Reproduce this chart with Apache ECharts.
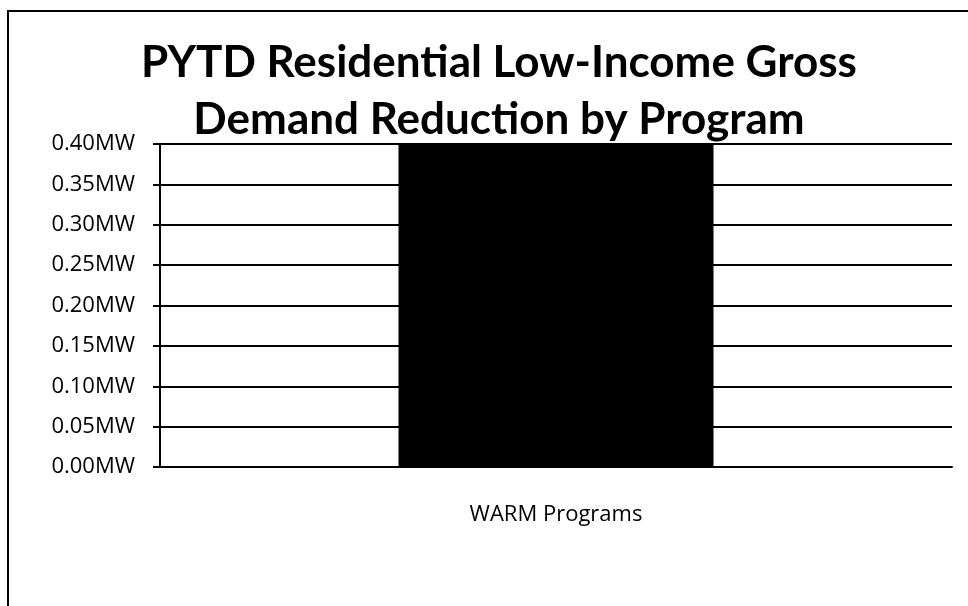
<!DOCTYPE html>
<html>
<head>
<meta charset="utf-8">
<script src="https://cdn.jsdelivr.net/npm/echarts@6/dist/echarts.min.js"></script>
<style>
html,body{margin:0;padding:0;background:#fff;}
#chart{width:968px;height:606px;}
</style>
</head>
<body>
<div id="chart"></div>
<script>
const titleText = 'PYTD Residential Low-Income Gross\nDemand Reduction by Program';
const categories = ['WARM Programs'];
const values = [0.40];
const yMin = 0, yMax = 0.40, yStep = 0.05;

const chart = echarts.init(document.getElementById('chart'), null, {renderer: 'canvas'});
chart.setOption({
  backgroundColor: '#fff',
  animation: false,
  title: {
    text: titleText,
    left: 494,
    top: 29,
    textAlign: 'center',
    textStyle: {
      fontFamily: 'Lato',
      fontWeight: 'bold',
      fontSize: 44,
      lineHeight: 57,
      color: '#000'
    }
  },
  graphic: [{
    type: 'polyline',
    shape: {points: [[8, 606], [8, 11], [968, 11]]},
    style: {stroke: '#000', lineWidth: 2, fill: null},
    silent: true
  }],
  grid: {left: 160, right: 16, top: 144, bottom: 139},
  xAxis: {
    type: 'category',
    data: categories,
    axisLine: {show: true, lineStyle: {color: '#000', width: 2}},
    axisTick: {show: false},
    axisLabel: {
      color: '#000',
      fontFamily: 'Open Sans',
      fontSize: 22,
      margin: 37
    }
  },
  yAxis: {
    type: 'value',
    min: yMin,
    max: yMax,
    interval: yStep,
    axisLine: {show: true, lineStyle: {color: '#000', width: 2}},
    axisTick: {show: true, length: 7, lineStyle: {color: '#000', width: 2}},
    axisLabel: {
      color: '#000',
      fontFamily: 'Open Sans',
      fontSize: 22,
      margin: 25,
      formatter: v => v.toFixed(2) + 'MW'
    },
    splitLine: {show: true, lineStyle: {color: '#000', width: 2}}
  },
  series: [{
    type: 'bar',
    data: values,
    barWidth: 315,
    itemStyle: {color: '#000'}
  }]
});
</script>
</body>
</html>
